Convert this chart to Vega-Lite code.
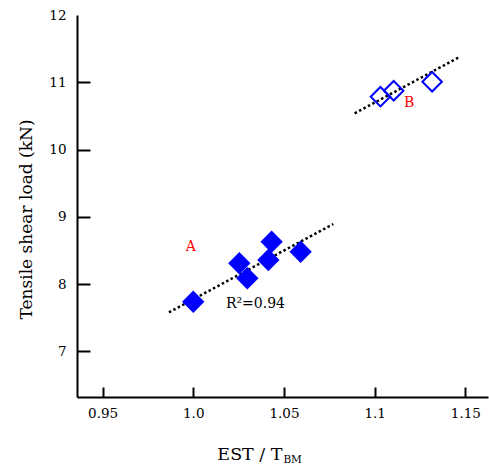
{
  "$schema": "https://vega.github.io/schema/vega-lite/v6.json",
  "autosize": "none",
  "width": 411,
  "height": 382,
  "padding": {"left": 77, "top": 15, "right": 1, "bottom": 73},
  "config": {
    "view": {"stroke": null},
    "font": "DejaVu Serif",
    "axis": {
      "grid": false,
      "domainColor": "black",
      "domainWidth": 2,
      "tickColor": "black",
      "tickWidth": 2,
      "labelFont": "DejaVu Serif",
      "labelFontSize": 13.5,
      "labelColor": "black",
      "titleFont": "DejaVu Serif",
      "titleFontWeight": "normal",
      "titleColor": "black"
    }
  },
  "resolve": {"axis": {"x": "independent", "y": "independent"}},
  "datasets": {
    "points": [
      {"group": "A", "x": 1.000, "y": 7.737},
      {"group": "A", "x": 1.0254, "y": 8.308},
      {"group": "A", "x": 1.0298, "y": 8.085},
      {"group": "A", "x": 1.0432, "y": 8.629},
      {"group": "A", "x": 1.0414, "y": 8.357},
      {"group": "A", "x": 1.0592, "y": 8.480},
      {"group": "B", "x": 1.1032, "y": 10.785},
      {"group": "B", "x": 1.1105, "y": 10.874},
      {"group": "B", "x": 1.1317, "y": 11.008}
    ],
    "fits": [
      {"group": "A", "x": 0.9866, "y": 7.579},
      {"group": "A", "x": 1.0772, "y": 8.892},
      {"group": "B", "x": 1.089, "y": 10.538},
      {"group": "B", "x": 1.1471, "y": 11.380}
    ],
    "groupLabels": [
      {"text": "A", "x": 0.9987, "y": 8.555},
      {"text": "B", "x": 1.119, "y": 10.687}
    ],
    "stats": [
      {"text": "R²=0.94", "x": 1.0343, "y": 7.698}
    ],
    "subscript": [
      {"text": "BM", "x": 1.0497, "y": 5.343}
    ]
  },
  "layer": [
    {
      "data": {"name": "fits"},
      "mark": {"type": "line", "color": "black", "strokeWidth": 2.5, "strokeDash": [2.5, 2.5]},
      "encoding": {
        "x": {
          "field": "x",
          "type": "quantitative",
          "scale": {"domain": [0.9359, 1.1625], "nice": false, "zero": false},
          "axis": {
            "orient": "bottom",
            "values": [0.95, 1.0, 1.05, 1.1, 1.15],
            "format": ".2~f",
            "labelExpr": "datum.value == 1 ? '1.0' : datum.label",
            "ticks": false,
            "tickSize": 0,
            "labelPadding": 9,
            "labelDx": -9.5,
            "title": "EST / T",
            "titleFontSize": 17.5,
            "titleAlign": "right",
            "titleAnchor": null,
            "titleBaseline": "alphabetic",
            "titleX": 205,
            "titleY": 62
          }
        },
        "y": {
          "field": "y",
          "type": "quantitative",
          "scale": {"domain": [6.32, 12], "nice": false, "zero": false},
          "axis": {
            "orient": "left",
            "values": [7, 8, 9, 10, 11, 12],
            "ticks": false,
            "tickSize": 0,
            "labelPadding": 11,
            "labelDy": -5,
            "title": "Tensile shear load (kN)",
            "titleFontSize": 17,
            "titleAngle": -90,
            "titleAlign": "center",
            "titleAnchor": null,
            "titleBaseline": "alphabetic",
            "titleX": -45.5,
            "titleY": 204
          }
        },
        "detail": {"field": "group"}
      }
    },
    {
      "data": {"name": "points"},
      "transform": [{"filter": "datum.group == 'A'"}],
      "mark": {"type": "point", "shape": "diamond", "filled": true, "color": "#0000ff", "size": 500, "opacity": 1},
      "encoding": {
        "x": {
          "field": "x",
          "type": "quantitative",
          "axis": {
            "orient": "top",
            "values": [0.95, 1.0, 1.05, 1.1, 1.15],
            "labels": false,
            "domain": false,
            "title": null,
            "tickSize": 10,
            "offset": -382
          }
        },
        "y": {
          "field": "y",
          "type": "quantitative",
          "axis": {
            "orient": "right",
            "values": [7, 8, 9, 10, 11],
            "labels": false,
            "domain": false,
            "title": null,
            "tickSize": 13,
            "offset": -411
          }
        }
      }
    },
    {
      "mark": {"type": "rule", "color": "black", "strokeWidth": 2},
      "encoding": {"y": {"datum": 12, "type": "quantitative", "axis": null}}
    },
    {
      "data": {"name": "points"},
      "transform": [{"filter": "datum.group == 'B'"}],
      "mark": {"type": "point", "shape": "diamond", "filled": false, "color": "#0000ff", "size": 380, "strokeWidth": 2, "opacity": 1},
      "encoding": {
        "x": {"field": "x", "type": "quantitative", "axis": null},
        "y": {"field": "y", "type": "quantitative", "axis": null}
      }
    },
    {
      "data": {"name": "groupLabels"},
      "mark": {"type": "text", "color": "#ff0000", "fontSize": 14, "font": "DejaVu Serif", "align": "center", "baseline": "middle"},
      "encoding": {
        "x": {"field": "x", "type": "quantitative", "axis": null},
        "y": {"field": "y", "type": "quantitative", "axis": null},
        "text": {"field": "text"}
      }
    },
    {
      "data": {"name": "stats"},
      "mark": {"type": "text", "color": "black", "fontSize": 14, "font": "DejaVu Serif", "align": "center", "baseline": "middle"},
      "encoding": {
        "x": {"field": "x", "type": "quantitative", "axis": null},
        "y": {"field": "y", "type": "quantitative", "axis": null},
        "text": {"field": "text"}
      }
    },
    {
      "data": {"name": "subscript"},
      "mark": {"type": "text", "color": "black", "fontSize": 10.5, "font": "DejaVu Serif", "align": "left", "baseline": "alphabetic"},
      "encoding": {
        "x": {"field": "x", "type": "quantitative", "axis": null},
        "y": {"field": "y", "type": "quantitative", "axis": null},
        "text": {"field": "text"}
      }
    }
  ]
}
